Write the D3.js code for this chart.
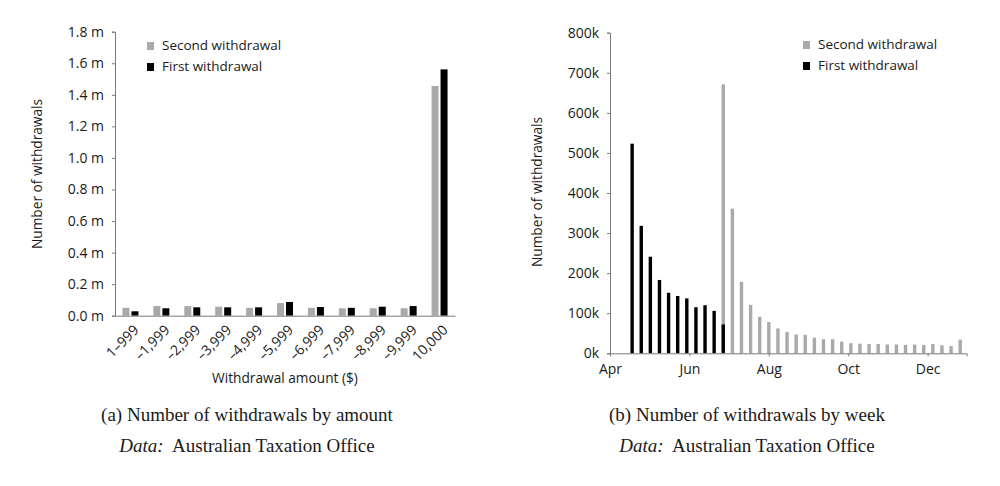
<!DOCTYPE html>
<html>
<head>
<meta charset="utf-8">
<script src="https://cdn.jsdelivr.net/npm/d3@7"></script>
<style>
  body { margin: 0; background: #fff; }
  svg text { font-family: "Open Sans", sans-serif; fill: #1a1a1a; }
  .cap { font-family: "Liberation Serif", serif; }
</style>
</head>
<body>
<div id="viz"></div>
<script>
// panel (a): withdrawals by amount, millions
var amounts = ['1\u2013999', '\u20131,999', '\u20132,999', '\u20133,999', '\u20134,999', '\u20135,999',
               '\u20136,999', '\u20137,999', '\u20138,999', '\u20139,999', '10,000'];
var secondByAmount = [0.050, 0.061, 0.061, 0.057, 0.050, 0.080, 0.050, 0.047, 0.047, 0.047, 1.456];
var firstByAmount  = [0.028, 0.047, 0.053, 0.053, 0.053, 0.087, 0.055, 0.050, 0.057, 0.061, 1.561];
var amountTicks = [0, 0.2, 0.4, 0.6, 0.8, 1.0, 1.2, 1.4, 1.6, 1.8];

// panel (b): withdrawals by week (2020)
var firstWeeks = ['2020-04-18', '2020-04-25', '2020-05-02', '2020-05-09', '2020-05-16', '2020-05-23',
                  '2020-05-30', '2020-06-06', '2020-06-13', '2020-06-20', '2020-06-27'];
var firstByWeek = [523000, 318000, 241000, 183000, 151000, 143000, 137000, 115000, 120000, 106000, 72000];
var secondWeeks = ['2020-06-27', '2020-07-04', '2020-07-11', '2020-07-18', '2020-07-25', '2020-08-01',
                   '2020-08-08', '2020-08-15', '2020-08-22', '2020-08-29', '2020-09-05', '2020-09-12',
                   '2020-09-19', '2020-09-26', '2020-10-03', '2020-10-10', '2020-10-17', '2020-10-24',
                   '2020-10-31', '2020-11-07', '2020-11-14', '2020-11-21', '2020-11-28', '2020-12-05',
                   '2020-12-12', '2020-12-19', '2020-12-26'];
var secondByWeek = [671000, 361000, 178000, 121000, 91000, 78000, 62000, 53000, 47000, 46000, 39000, 35000,
                    35000, 29000, 25000, 24000, 23000, 23000, 22000, 22000, 21000, 22000, 21000, 23000,
                    20000, 18000, 34000];
var weekTicks = [0, 100000, 200000, 300000, 400000, 500000, 600000, 700000, 800000];
var monthTicks = ['2020-04-01', '2020-06-01', '2020-08-01', '2020-10-01', '2020-12-01'];

var width = 1000, height = 486;
var grey = '#a9a9a9', axisCol = '#7a7a7a';
var parse = d3.timeParse('%Y-%m-%d');

var svg = d3.select('#viz').append('svg')
    .attr('width', width)
    .attr('height', height);

function styleAxis(g) {
  g.selectAll('path, line').attr('stroke', axisCol);
  g.selectAll('text').style('font-size', '14px').attr('fill', '#1a1a1a');
}

function legend(x, y) {
  var items = [['Second withdrawal', grey], ['First withdrawal', '#000']];
  items.forEach(function(d, i) {
    svg.append('rect')
        .attr('x', x).attr('y', y - 8 + i * 21)
        .attr('width', 7).attr('height', 8)
        .attr('fill', d[1]);
    svg.append('text')
        .attr('x', x + 15).attr('y', y + i * 21)
        .style('font-size', '13.5px')
        .text(d[0]);
  });
}

function caption(cx, label) {
  svg.append('text').attr('class', 'cap')
      .attr('x', cx).attr('y', 421)
      .attr('text-anchor', 'middle')
      .style('font-size', '19px')
      .text(label);
  var t = svg.append('text').attr('class', 'cap')
      .attr('x', cx).attr('y', 452)
      .attr('text-anchor', 'middle')
      .style('font-size', '19px');
  t.append('tspan').style('font-style', 'italic').text('Data:');
  t.append('tspan').text('\u00a0 Australian Taxation Office');
}

// ---- panel (a)
var xa = d3.scaleBand().domain(amounts).range([115, 455]).padding(0);
var ya = d3.scaleLinear().domain([0, 1.8]).range([315.7, 31.7]);

svg.append('g')
    .attr('transform', 'translate(115,0)')
    .call(d3.axisLeft(ya).tickValues(amountTicks).tickSize(3).tickPadding(8)
      .tickFormat(function(d) { return d3.format('.1f')(d) + ' m'; }))
    .call(styleAxis);

var bw = 7;
svg.append('g').selectAll('rect')
    .data(amounts)
    .join('rect')
    .attr('x', function(d) { return xa(d) + xa.bandwidth() / 2 - bw - 1; })
    .attr('y', function(d, i) { return ya(secondByAmount[i]); })
    .attr('width', bw)
    .attr('height', function(d, i) { return ya(0) - ya(secondByAmount[i]); })
    .attr('fill', grey);

svg.append('g').selectAll('rect')
    .data(amounts)
    .join('rect')
    .attr('x', function(d) { return xa(d) + xa.bandwidth() / 2 + 1; })
    .attr('y', function(d, i) { return ya(firstByAmount[i]); })
    .attr('width', bw)
    .attr('height', function(d, i) { return ya(0) - ya(firstByAmount[i]); })
    .attr('fill', '#000');

var gxa = svg.append('g')
    .attr('transform', 'translate(0,315.7)')
    .call(d3.axisBottom(xa).tickSize(0).tickPadding(6))
    .call(styleAxis);
gxa.selectAll('text')
    .attr('text-anchor', 'end')
    .attr('dy', '0.3em')
    .attr('transform', 'translate(2,8) rotate(-45)');

svg.append('text')
    .attr('x', 285).attr('y', 383)
    .attr('text-anchor', 'middle')
    .style('font-size', '13.7px')
    .text('Withdrawal amount ($)');

svg.append('text')
    .attr('transform', 'translate(42,174) rotate(-90)')
    .attr('text-anchor', 'middle')
    .style('font-size', '13.7px')
    .text('Number of withdrawals');

legend(147, 50);
caption(247, '(a) Number of withdrawals by amount');

// ---- panel (b)
var xb = d3.scaleTime().domain([parse('2020-04-01'), parse('2020-12-31')]).range([610, 966.7]);
var yb = d3.scaleLinear().domain([0, 800000]).range([353.3, 32.7]);

svg.append('g')
    .attr('transform', 'translate(610,0)')
    .call(d3.axisLeft(yb).tickValues(weekTicks).tickSize(3).tickPadding(8)
      .tickFormat(function(d) { return (d / 1000) + 'k'; }))
    .call(styleAxis);

var nb = 3.4;
svg.append('g').selectAll('rect')
    .data(secondWeeks)
    .join('rect')
    .attr('x', function(d) { return xb(parse(d)) - nb / 2; })
    .attr('y', function(d, i) { return yb(secondByWeek[i]); })
    .attr('width', nb)
    .attr('height', function(d, i) { return yb(0) - yb(secondByWeek[i]); })
    .attr('fill', grey);

svg.append('g').selectAll('rect')
    .data(firstWeeks)
    .join('rect')
    .attr('x', function(d) { return xb(parse(d)) - nb / 2; })
    .attr('y', function(d, i) { return yb(firstByWeek[i]); })
    .attr('width', nb)
    .attr('height', function(d, i) { return yb(0) - yb(firstByWeek[i]); })
    .attr('fill', '#000');

svg.append('g')
    .attr('transform', 'translate(0,353.3)')
    .call(d3.axisBottom(xb).tickValues(monthTicks.map(parse)).tickSize(3).tickPadding(8)
      .tickFormat(d3.timeFormat('%b')))
    .call(styleAxis);

svg.append('text')
    .attr('transform', 'translate(542,192) rotate(-90)')
    .attr('text-anchor', 'middle')
    .style('font-size', '13.7px')
    .text('Number of withdrawals');

legend(803, 49);
caption(747, '(b) Number of withdrawals by week');
</script>
</body>
</html>
